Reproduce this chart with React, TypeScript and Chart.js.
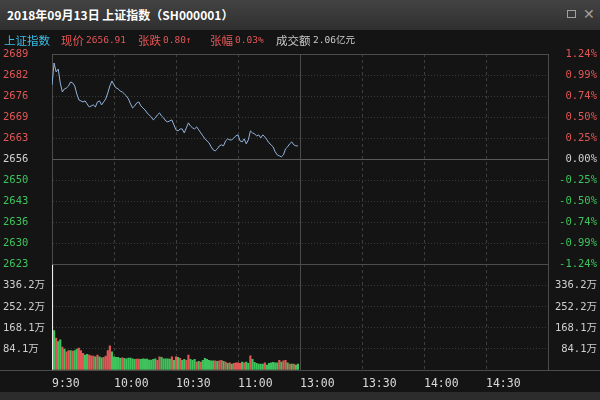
import React, { useEffect, useRef } from 'react';
import { Chart, registerables } from 'chart.js';

Chart.register(...registerables);

// ---------- data ----------
const titleText = '2018年09月13日 上证指数（SH000001）';
const preClose = 2656.11;
const priceMin = 2623.22;
const priceMax = 2689.0;
const priceTickLabels = ['2623', '2630', '2636', '2643', '2650', '2656', '2663', '2669', '2676', '2682', '2689'];
const pctTickLabels = ['-1.24%', '-0.99%', '-0.74%', '-0.50%', '-0.25%', '0.00%', '0.25%', '0.50%', '0.74%', '0.99%', '1.24%'];
const volMax = 420.3;
const volTickLabels = ['', '84.1万', '168.1万', '252.2万', '336.2万', ''];
const timeLabels = ['9:30', '10:00', '10:30', '11:00', '13:00', '13:30', '14:00', '14:30', ''];
const totalMinutes = 240;

// minute prices 9:30 .. 11:29
const prices = [
  2679.33, 2686.19, 2683.39, 2684.32, 2679.96, 2677.15, 2678.09, 2678.40, 2679.02, 2680.27,
  2679.96, 2679.02, 2676.53, 2674.66, 2674.35, 2674.03, 2674.35, 2673.41, 2672.47, 2672.79,
  2673.10, 2672.47, 2674.03, 2674.35, 2673.10, 2674.03, 2674.97, 2676.84, 2679.02, 2680.58,
  2679.33, 2678.40, 2678.09, 2677.46, 2677.15, 2676.53, 2675.90, 2674.97, 2673.41, 2672.16,
  2672.79, 2673.72, 2674.03, 2672.79, 2672.16, 2671.54, 2670.60, 2669.98, 2669.36, 2668.42,
  2669.04, 2669.98, 2670.60, 2669.67, 2669.04, 2668.11, 2667.80, 2668.11, 2668.42, 2666.86,
  2665.30, 2664.99, 2665.61, 2665.61, 2664.37, 2665.93, 2667.49, 2666.55, 2665.93, 2665.61,
  2666.24, 2665.30, 2664.37, 2663.43, 2662.50, 2661.87, 2661.25, 2660.00, 2659.07, 2658.76,
  2659.38, 2660.31, 2660.63, 2660.31, 2661.87, 2662.50, 2662.19, 2662.19, 2662.81, 2663.43,
  2663.74, 2661.87, 2661.56, 2662.50, 2660.94, 2662.19, 2664.99, 2664.37, 2664.06, 2663.43,
  2663.74, 2662.81, 2663.74, 2663.12, 2662.19, 2661.25, 2660.63, 2660.00, 2658.44, 2657.51,
  2657.20, 2656.88, 2657.51, 2659.38, 2660.00, 2660.94, 2661.56, 2660.63, 2660.31, 2660.31,
];

// minute volumes (万)
const volumes = [
  420.3, 157, 127, 113, 120, 91, 83, 73, 77, 77,
  75, 77, 83, 87, 77, 67, 60, 63, 60, 57,
  56, 53, 60, 53, 49, 51, 56, 77, 96, 73,
  53, 51, 51, 47, 49, 47, 45, 48, 48, 45,
  43, 44, 44, 43, 45, 44, 44, 40, 40, 43,
  45, 39, 53, 51, 45, 45, 45, 44, 53, 39,
  53, 51, 47, 39, 43, 39, 60, 43, 39, 43,
  32, 35, 32, 39, 47, 43, 39, 37, 37, 37,
  35, 37, 39, 35, 32, 27, 29, 24, 27, 29,
  29, 27, 32, 29, 32, 27, 57, 43, 31, 27,
  24, 24, 24, 29, 20, 27, 29, 31, 29, 29,
  39, 32, 37, 39, 29, 24, 24, 24, 20, 24,
];

// 1 = up (red), -1 = down (green), 0 = opening
const volDir = [
  0, -1, 1, -1, -1, 1, -1, 1, 1, -1,
  1, -1, -1, 1, 1, 1, -1, -1, 1, 1,
  1, -1, 1, -1, -1, 1, 1, 1, 1, -1,
  -1, -1, -1, -1, 1, -1, -1, -1, -1, -1,
  -1, 1, 1, -1, -1, -1, -1, -1, -1, -1,
  -1, 1, 1, -1, -1, -1, -1, -1, 1, -1,
  1, -1, 1, -1, -1, 1, 1, -1, -1, -1,
  1, -1, 1, -1, -1, -1, -1, -1, -1, 1,
  -1, 1, 1, -1, 1, -1, 1, -1, 1, 1,
  1, 1, -1, 1, -1, -1, 1, -1, -1, -1,
  -1, -1, -1, 1, -1, -1, -1, -1, -1, -1,
  1, -1, 1, 1, -1, 1, -1, 1, -1, -1,
];

// ---------- styles ----------
const RED = '#e35656';
const GREEN = '#3fc35c';
const NEUTRAL = '#d2d2d2';
const MONO = "'DejaVu Sans Mono', 'Noto Sans CJK SC', monospace";
const GRID = '#3a3a3a';
const FRAME = '#4c4c4c';

function priceTickValue(i: number) {
  return priceMin + (i * (priceMax - priceMin)) / (priceTickLabels.length - 1);
}
function tickColor(i: number) {
  const mid = (priceTickLabels.length - 1) / 2;
  if (i === mid) return NEUTRAL;
  return i > mid ? RED : GREEN;
}

export default function App() {
  const ref = useRef<HTMLCanvasElement | null>(null);

  useEffect(() => {
    const canvas = ref.current;
    if (!canvas) return;
    const mid = (priceTickLabels.length - 1) / 2;
    const last = priceTickLabels.length - 1;

    const bgPlugin = {
      id: 'bgPlugin',
      beforeDraw(chart: any) {
        const { ctx, width, height } = chart;
        ctx.save();
        ctx.fillStyle = '#141414';
        ctx.fillRect(0, 0, width, height);
        ctx.fillStyle = '#2c2c2c';
        ctx.fillRect(0, height - 8, width, 8);
        ctx.restore();
      },
      afterDraw(chart: any) {
        const { ctx, width, chartArea } = chart;
        ctx.save();
        ctx.strokeStyle = FRAME;
        ctx.lineWidth = 1;
        ctx.beginPath();
        const y = Math.round(chartArea.bottom) + 0.5;
        ctx.moveTo(0, y);
        ctx.lineTo(width, y);
        ctx.stroke();
        ctx.restore();
      },
    };

    const priceTicks = (s: any) => {
      s.ticks = priceTickLabels.map((_, i) => ({ value: priceTickValue(i) }));
    };
    const volTicks = (s: any) => {
      s.ticks = volTickLabels.map((_, i) => ({ value: (volMax * i) / (volTickLabels.length - 1) }));
    };

    const chart = new Chart(canvas, {
      type: 'line',
      data: {
        datasets: [
          {
            type: 'line',
            data: prices.map((p, i) => ({ x: i, y: p })),
            xAxisID: 'x',
            yAxisID: 'y',
            borderColor: '#93b4dc',
            borderWidth: 1,
            pointRadius: 0,
            tension: 0,
            order: 0,
          },
          {
            type: 'bar',
            data: volumes.map((v, i) => ({ x: i, y: v })),
            xAxisID: 'x',
            yAxisID: 'yv',
            backgroundColor: volDir.map((d) => (d > 0 ? RED : d < 0 ? GREEN : '#eeeeee')),
            barThickness: 1.5,
            order: 1,
          },
        ] as any,
      },
      options: {
        animation: false,
        responsive: false,
        devicePixelRatio: 1,
        layout: { padding: { left: 3, right: 3, top: 24, bottom: 0 } },
        plugins: { legend: { display: false }, tooltip: { enabled: false }, title: { display: false } },
        events: [],
        scales: {
          x: {
            type: 'linear',
            position: 'bottom',
            offset: false,
            min: 0,
            max: totalMinutes,
            afterBuildTicks: (s: any) => {
              s.ticks = timeLabels.map((_, i) => ({ value: (i * totalMinutes) / (timeLabels.length - 1) }));
            },
            afterFit: (s: any) => {
              s.height = 30;
            },
            ticks: {
              autoSkip: false,
              maxRotation: 0,
              minRotation: 0,
              align: 'start',
              padding: 7,
              color: '#dadada',
              font: { family: MONO, size: 11.5 },
              callback: (_v: any, i: number) => timeLabels[i],
            },
            grid: {
              offset: false,
              drawTicks: false,
              lineWidth: 1,
              color: (c: any) => {
                const i = c.index;
                if (i === 0 || i === timeLabels.length - 1) return 'rgba(0,0,0,0)';
                if (i === (timeLabels.length - 1) / 2) return FRAME;
                return '#3e3e3e';
              },
            },
            border: {
              display: true,
              color: FRAME,
              dash: (c: any) => (c.index === (timeLabels.length - 1) / 2 ? [] : [3, 3]),
            },
          },
          yv: {
            type: 'linear',
            position: 'left',
            stack: 'left',
            stackWeight: 1,
            weight: 0,
            min: 0,
            max: volMax,
            afterBuildTicks: volTicks,
            afterFit: (s: any) => {
              s.width = 49;
            },
            ticks: {
              autoSkip: false,
              crossAlign: 'far',
              padding: 0,
              color: '#cfcfcf',
              font: { family: MONO, size: 10.5 },
              callback: (_v: any, i: number) => volTickLabels[i],
            },
            grid: {
              drawTicks: false,
              color: (c: any) =>
                c.index === 0 || c.index === volTickLabels.length - 1 ? 'rgba(0,0,0,0)' : GRID,
            },
            border: { display: true, color: FRAME, dash: [1, 2] },
          },
          y: {
            type: 'linear',
            position: 'left',
            stack: 'left',
            stackWeight: 2,
            weight: 1,
            min: priceMin,
            max: priceMax,
            afterBuildTicks: priceTicks,
            afterFit: (s: any) => {
              s.width = 49;
            },
            ticks: {
              autoSkip: false,
              crossAlign: 'far',
              padding: 0,
              font: { family: MONO, size: 10.5 },
              color: (c: any) => tickColor(c.index),
              callback: (_v: any, i: number) => priceTickLabels[i],
            },
            grid: {
              drawTicks: false,
              color: (c: any) => {
                const i = c.index;
                if (i === mid) return '#585858';
                if (i === 0 || i === last) return FRAME;
                return GRID;
              },
            },
            border: {
              display: true,
              color: FRAME,
              dash: (c: any) => {
                const i = c.index;
                if (i === undefined || i === mid || i === 0 || i === last) return [];
                return [1, 2];
              },
            },
          },
          yr: {
            type: 'linear',
            position: 'right',
            stack: 'right',
            stackWeight: 2,
            weight: 0,
            min: priceMin,
            max: priceMax,
            afterBuildTicks: priceTicks,
            afterFit: (s: any) => {
              s.width = 49;
            },
            ticks: {
              autoSkip: false,
              crossAlign: 'far',
              padding: 0,
              font: { family: MONO, size: 10.5 },
              color: (c: any) => tickColor(c.index),
              callback: (_v: any, i: number) => pctTickLabels[i],
            },
            grid: { display: false, drawTicks: false },
            border: { display: true, color: FRAME },
          },
          yvr: {
            type: 'linear',
            position: 'right',
            stack: 'right',
            stackWeight: 1,
            weight: 1,
            min: 0,
            max: volMax,
            afterBuildTicks: volTicks,
            afterFit: (s: any) => {
              s.width = 49;
            },
            ticks: {
              autoSkip: false,
              crossAlign: 'far',
              padding: 0,
              color: '#cfcfcf',
              font: { family: MONO, size: 10.5 },
              callback: (_v: any, i: number) => volTickLabels[i],
            },
            grid: { display: false, drawTicks: false },
            border: { display: true, color: FRAME },
          },
        } as any,
      },
      plugins: [bgPlugin],
    });

    return () => chart.destroy();
  }, []);

  const info: { text: string; left: number; color: string; mono?: boolean }[] = [
    { text: '上证指数', left: 4, color: '#3bbde6' },
    { text: '现价', left: 61, color: RED },
    { text: '2656.91', left: 86, color: RED, mono: true },
    { text: '张跌', left: 138, color: RED },
    { text: '0.80↑', left: 163, color: RED, mono: true },
    { text: '张幅', left: 210, color: RED },
    { text: '0.03%', left: 235, color: RED, mono: true },
    { text: '成交额', left: 276, color: '#c9c9c9' },
    { text: '2.06亿元', left: 313, color: '#c9c9c9', mono: true },
  ];

  return (
    <div
      style={{
        position: 'fixed',
        left: 0,
        top: 0,
        width: 600,
        height: 400,
        background: '#141414',
        overflow: 'hidden',
      }}
    >
      <div
        style={{
          position: 'absolute',
          left: 0,
          top: 0,
          width: 600,
          height: 30,
          background: 'linear-gradient(#434343, #2f2f2f)',
        }}
      >
        <div
          style={{
            position: 'absolute',
            left: 7,
            top: 6,
            color: '#ffffff',
            fontFamily: "'Noto Sans CJK SC', sans-serif",
            fontWeight: 700,
            fontSize: 12,
            lineHeight: '18px',
            whiteSpace: 'nowrap',
          }}
        >
          {titleText}
        </div>
        <div
          style={{
            position: 'absolute',
            left: 567,
            top: 10,
            width: 9,
            height: 8,
            border: '1px solid #a0a0a0',
            boxSizing: 'border-box',
          }}
        />
        <div
          style={{
            position: 'absolute',
            left: 583,
            top: 5,
            color: '#a0a0a0',
            fontFamily: "'DejaVu Sans', sans-serif",
            fontSize: 14,
            lineHeight: '18px',
          }}
        >
          ✕
        </div>
      </div>
      <canvas
        ref={ref}
        width={600}
        height={370}
        style={{ position: 'absolute', left: 0, top: 30, width: 600, height: 370, display: 'block' }}
      />
      {info.map((it, k) => (
        <div
          key={k}
          style={{
            position: 'absolute',
            left: it.left,
            top: 32,
            color: it.color,
            fontFamily: it.mono ? MONO : "'Noto Sans CJK SC', sans-serif",
            fontSize: it.mono ? 9.5 : 11.5,
            lineHeight: '16px',
            whiteSpace: 'nowrap',
            zIndex: 2,
          }}
        >
          {it.text}
        </div>
      ))}
    </div>
  );
}
